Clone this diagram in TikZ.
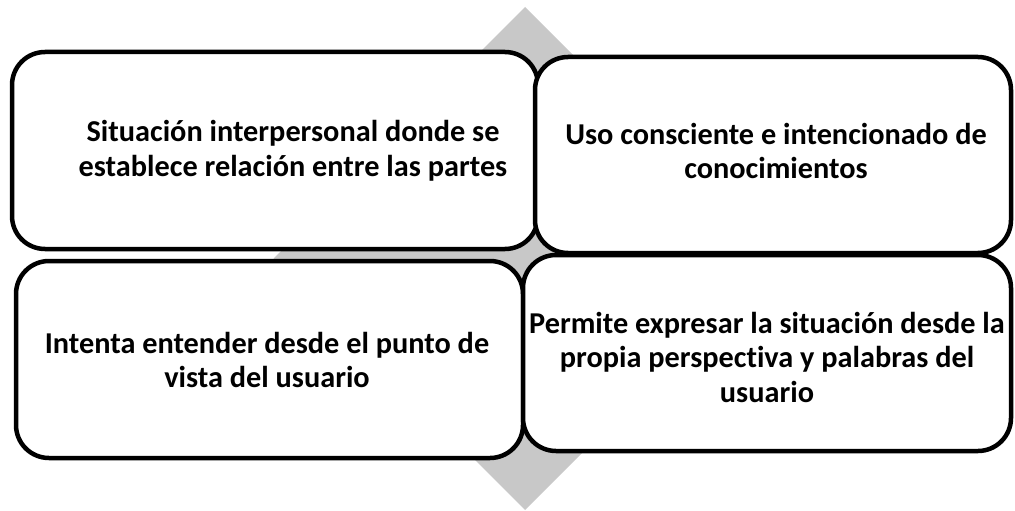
\documentclass[tikz,border=0pt]{standalone}
\usepackage{fontspec}
\setmainfont[RawFeature={-liga;-clig;-calt;-dlig}]{Carlito}
\definecolor{diam}{RGB}{200,200,200}
\tikzset{
  card/.style={draw=black, line width=4.5pt, rounded corners=33pt, fill=white},
  lbl/.style={align=center, inner sep=0pt, font=\bfseries\fontsize{30.3}{34.5}\selectfont}
}
\begin{document}
\begin{tikzpicture}[x=1pt,y=-1pt]
\useasboundingbox (0,0) rectangle (1015,511);
\fill[diam] (525,7) -- (776.5,258.5) -- (525,510) -- (273.5,258.5) -- cycle;
\draw[card] (12,52) rectangle (538,249);
\draw[card] (535,57) rectangle (1011,253);
\draw[card] (16,261) rectangle (523,458);
\draw[card] (523,255) rectangle (1011,451);
\node[lbl] (tl) at (293,151) {Situación interpersonal donde se\\establece relación entre las partes};
\node[lbl] (tr) at (776,151) {Uso consciente e intencionado de\\conocimientos};
\node[lbl] (bl) at (267,360) {Intenta entender desde el punto de\\vista del usuario};
\node[lbl] (br) at (767,357) {Permite expresar la situación desde la\\propia perspectiva y palabras del\\usuario};
\end{tikzpicture}
\end{document}
